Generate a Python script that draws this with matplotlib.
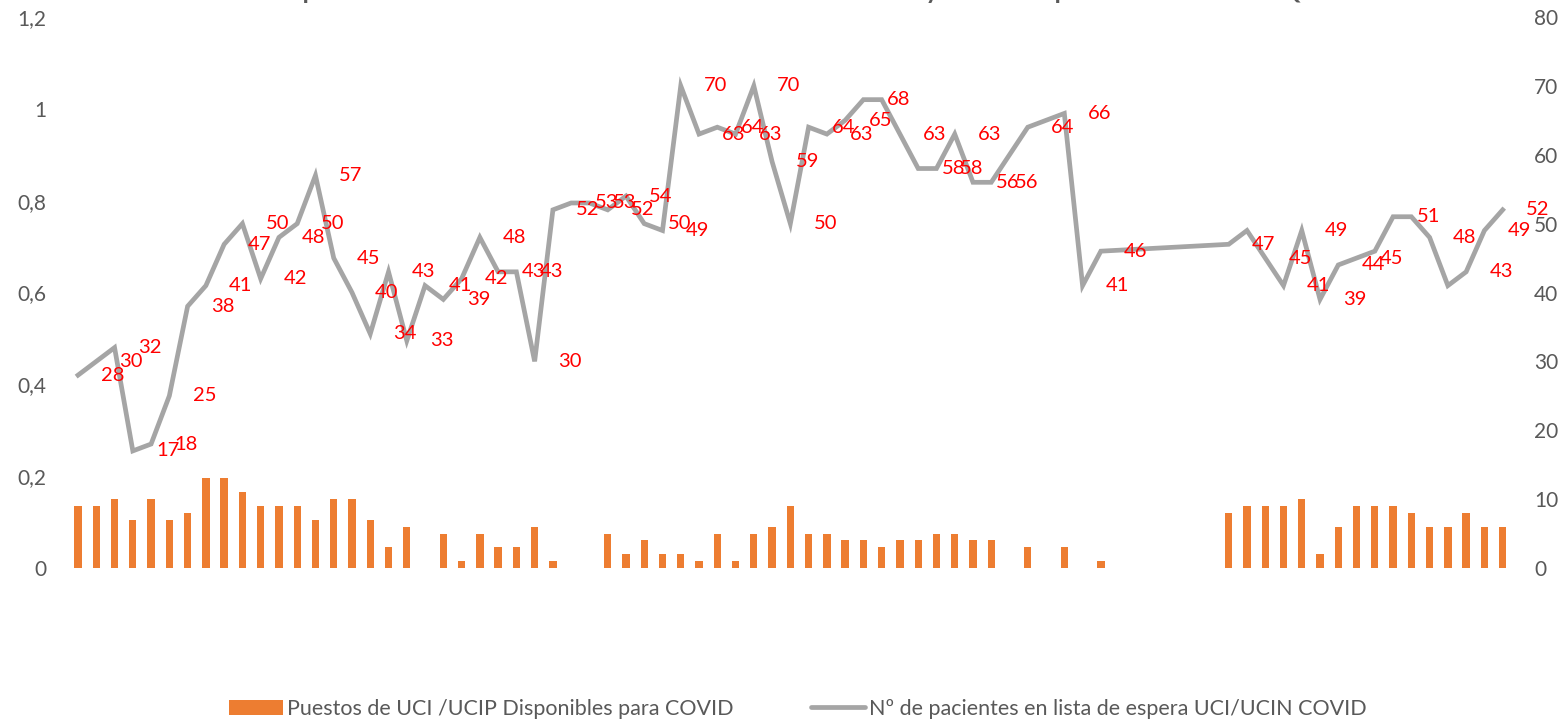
import numpy as np
import matplotlib
matplotlib.use("Agg")
import matplotlib.pyplot as plt
from matplotlib.ticker import FuncFormatter
from matplotlib.patches import Patch
from matplotlib.lines import Line2D

plt.rcParams['font.family'] = ['Lato', 'DejaVu Sans']

# ---- data (79 consecutive days; None = no data) ----
puestos = [9, 9, 10, 7, 10, 7, 8, 13, 13, 11, 9, 9, 9, 7, 10, 10, 7, 3, 6, None,
           5, 1, 5, 3, 3, 6, 1, None, None, 5, 2, 4, 2, 2, 1, 5, 1, 5, 6, 9,
           5, 5, 4, 4, 3, 4, 4, 5, 5, 4, 4, None, 3, None, 3, None, 1, None, None, None,
           None, None, None, 8, 9, 9, 9, 10, 2, 6, 9, 9, 9, 8, 6, 6, 8, 6, 6]

espera = [28, 30, 32, 17, 18, 25, 38, 41, 47, 50, 42, 48, 50, 57, 45, 40, 34, 43, 33, 41,
          39, 42, 48, 43, 43, 30, 52, 53, 53, 52, 54, 50, 49, 70, 63, 64, 63, 70, 59, 50,
          64, 63, 65, 68, 68, 63, 58, 58, 63, 56, 56, None, 64, None, 66, 41, 46, None, None, None,
          None, None, None, 47, 49, 45, 41, 49, 39, 44, 45, 46, 51, 51, 48, 41, 43, 49, 52]

# data labels that are not shown in the reference
hidden_labels = [44, 64, 71, 73, 75]

left_ticks = [0, 0.2, 0.4, 0.6, 0.8, 1.0, 1.2]
right_ticks = [0, 10, 20, 30, 40, 50, 60, 70, 80]

serie_barras = "Puestos de UCI /UCIP Disponibles para COVID"
serie_linea = "Nº de pacientes en lista de espera UCI/UCIN COVID"
titulo = "Disponibilidad de camas de cuidados intensivos COVID-19 y lista de espera UCI/UCIN/UCIQ"

ORANGE = "#ED7D31"
GREY = "#A5A5A5"
TICK = "#595959"

W, H = 1567, 725
fig = plt.figure(figsize=(W / 100, H / 100), dpi=100)
x0, x1, ybot, ytop = 68.9, 1511.8, 568, 17
ax = fig.add_axes([x0 / W, (H - ybot) / H, (x1 - x0) / W, (ybot - ytop) / H])
ax2 = ax.twinx()

n = len(puestos)

bx = [i for i in range(n) if puestos[i] is not None]
bv = [puestos[i] for i in bx]
ax2.bar(bx, bv, width=0.4, color=ORANGE, zorder=2)

lx = [i for i in range(n) if espera[i] is not None]
lv = [espera[i] for i in lx]
ax2.plot(lx, lv, color=GREY, lw=3.4, solid_joinstyle='miter', zorder=3)

for i, v in zip(lx, lv):
    if i in hidden_labels:
        continue
    ax2.annotate(str(v), (i, v), xytext=(35 * 0.72, 0), textcoords='offset points',
                 ha='center', va='center', color='#FF0000', fontsize=14.5, zorder=4)

ax.set_xlim(-0.5, n - 0.5)
ax.set_ylim(0, 1.2)
ax2.set_ylim(0, 80)
ax.set_yticks(left_ticks)
ax2.set_yticks(right_ticks)
ax.yaxis.set_major_formatter(FuncFormatter(lambda v, p: ("%g" % v).replace('.', ',')))
ax.set_xticks([])
for a in (ax, ax2):
    for s in a.spines.values():
        s.set_visible(False)
    a.tick_params(axis='y', length=0, pad=16, labelsize=15, labelcolor=TICK)

fig.text(0.5, 1 + 1 / H, titulo, ha='center', va='baseline', fontsize=18,
         fontweight='bold', color=TICK)

handles = [Patch(facecolor=ORANGE, edgecolor='none'),
           Line2D([0], [0], color=GREY, lw=3.4, solid_capstyle='round')]
fig.legend(handles, [serie_barras, serie_linea], loc='center',
           bbox_to_anchor=(798 / W, (H - 709) / H), ncol=2, frameon=False,
           fontsize=15.5, handlelength=2.5, handletextpad=0.2, columnspacing=3.6,
           labelcolor=TICK, handleheight=0.7)

fig.savefig("out.png", dpi=100)
